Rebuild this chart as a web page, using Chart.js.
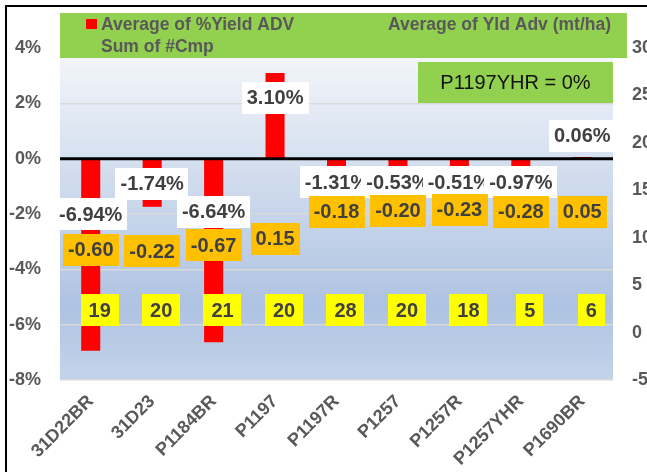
<!DOCTYPE html>
<html><head><meta charset="utf-8">
<script src="https://cdn.jsdelivr.net/npm/chart.js@4.4.1/dist/chart.umd.min.js"></script>
<style>html,body{margin:0;padding:0;background:#fff;overflow:hidden}</style>
</head><body>
<canvas id="c" width="647" height="472"></canvas>
<script>
// ---- data ----
const categories = ['31D22BR','31D23','P1184BR','P1197','P1197R','P1257','P1257R','P1257YHR','P1690BR'];
const yieldAdvPct = [-6.94,-1.74,-6.64,3.10,-1.31,-0.53,-0.51,-0.97,0.06];
const yldAdvMtHa = [-0.60,-0.22,-0.67,0.15,-0.18,-0.20,-0.23,-0.28,0.05];
const cmpCount = [19,20,21,20,28,20,18,5,6];
const leftTicks = [-8,-6,-4,-2,0,2,4];
const rightTicks = [-5,0,5,10,15,20,25,30];
const seriesNames = ['Average of %Yield ADV','Average of Yld Adv (mt/ha)','Sum of #Cmp'];
const noteText = 'P1197YHR = 0%';

// ---- label layout (levels on the left % axis where the original labels sit) ----
const pctLabelLevel = [-2.0,-0.91,-1.91,2.21,-0.86,-0.86,-0.86,-0.86,0.82];
const yldLabelLevel = [-3.30,-3.34,-3.12,-2.90,-1.92,-1.89,-1.85,-1.91,-1.91];
const cmpLabelLevel = -5.47;

const FONT = "'Liberation Sans Narrow','Arial Narrow','Liberation Sans',sans-serif";
const GRAY = '#595959';
const LABEL = '#404040';

const bgPlugin = {
  id: 'bg',
  beforeDraw(chart) {
    const {ctx, chartArea: a} = chart;
    const g = ctx.createLinearGradient(0, a.top, 0, a.bottom);
    g.addColorStop(0, '#F5F7FB');
    g.addColorStop(0.35, '#D4DFEF');
    g.addColorStop(0.78, '#AEC3E2');
    g.addColorStop(1, '#C4D4EA');
    ctx.save();
    ctx.fillStyle = '#fff';
    ctx.fillRect(0, 0, chart.width, chart.height);
    ctx.fillStyle = g;
    ctx.fillRect(a.left, a.top, a.right - a.left, a.bottom - a.top);
    ctx.restore();
  }
};

function box(ctx, text, cx, cy, padX, h, fill, font, color) {
  ctx.font = font;
  const w = ctx.measureText(text).width + padX * 2;
  ctx.fillStyle = fill;
  ctx.fillRect(Math.round(cx - w / 2), Math.round(cy - h / 2), Math.round(w), h);
  ctx.fillStyle = color;
  ctx.textAlign = 'center';
  ctx.textBaseline = 'middle';
  ctx.fillText(text, cx, cy + 1);
}

const overlayPlugin = {
  id: 'overlay',
  afterDatasetsDraw(chart) {
    const {ctx, chartArea: a, scales} = chart;
    const x = scales.x, y = scales.y;
    ctx.save();
    // horizontal axis line at 0%
    const y0 = y.getPixelForValue(0);
    ctx.strokeStyle = '#000';
    ctx.lineWidth = 3;
    ctx.beginPath(); ctx.moveTo(a.left, y0); ctx.lineTo(a.right, y0); ctx.stroke();

    const f = "bold 20px " + FONT;
    categories.forEach((c, i) => {
      const cx = x.getPixelForValue(i);
      box(ctx, yieldAdvPct[i].toFixed(2) + '%', cx, y.getPixelForValue(pctLabelLevel[i]), 5, 32, '#FFFFFF', f, LABEL);
    });
    categories.forEach((c, i) => {
      const cx = x.getPixelForValue(i);
      box(ctx, yldAdvMtHa[i].toFixed(2), cx, y.getPixelForValue(yldLabelLevel[i]), 5, 32, '#FFC000', f, LABEL);
    });
    categories.forEach((c, i) => {
      const cx = x.getPixelForValue(i) + 9;
      box(ctx, String(cmpCount[i]), cx, y.getPixelForValue(cmpLabelLevel), 8, 32, '#FFFF00', f, LABEL);
    });
    ctx.restore();
  },
  afterDraw(chart) {
    const {ctx, chartArea: a} = chart;
    ctx.save();
    // legend band
    ctx.fillStyle = '#92D050';
    ctx.fillRect(a.left, 13, 627 - a.left, 45);
    ctx.fillStyle = '#FF0000';
    ctx.fillRect(86, 19, 11, 10);
    ctx.font = "bold 17.5px " + FONT;
    ctx.fillStyle = GRAY;
    ctx.textBaseline = 'middle';
    ctx.textAlign = 'left';
    ctx.fillText(seriesNames[0], 101, 25);
    ctx.fillText(seriesNames[2], 101, 47);
    ctx.textAlign = 'right';
    ctx.fillText(seriesNames[1], 611, 25);
    // note box
    ctx.fillStyle = '#92D050';
    ctx.fillRect(418, 62, a.right - 418, 41);
    ctx.fillStyle = '#111';
    ctx.font = "20px " + FONT;
    ctx.textAlign = 'center';
    ctx.fillText(noteText, (418 + a.right) / 2, 83);
    // outer border (left and top edges visible)
    ctx.fillStyle = '#000';
    ctx.fillRect(5, 5, 2, chart.height);
    ctx.fillRect(5, 5, chart.width, 2);
    ctx.restore();
  }
};

new Chart(document.getElementById('c'), {
  type: 'bar',
  data: {
    labels: categories,
    datasets: [
      { label: seriesNames[0], data: yieldAdvPct, yAxisID: 'y', backgroundColor: '#FF0000',
        barPercentage: 0.31, categoryPercentage: 1.0, order: 3 },
      { type: 'line', label: seriesNames[1], data: yldAdvMtHa, yAxisID: 'y1',
        showLine: false, pointRadius: 0, pointHoverRadius: 0, order: 2 },
      { type: 'line', label: seriesNames[2], data: cmpCount, yAxisID: 'y1',
        showLine: false, pointRadius: 0, pointHoverRadius: 0, order: 1 }
    ]
  },
  options: {
    responsive: false,
    animation: false,
    devicePixelRatio: 1,
    layout: { padding: { top: 48, left: 0, right: 0, bottom: 0 } },
    plugins: { legend: { display: false }, tooltip: { enabled: false } },
    scales: {
      x: {
        grid: { display: false, drawTicks: false },
        border: { display: false },
        ticks: { autoSkip: false, maxRotation: 45, minRotation: 45, padding: 11,
                 color: GRAY, font: { family: FONT, size: 18, weight: 'bold' } },
        afterFit: s => { s.height = 92; }
      },
      y: {
        position: 'left', min: -8, max: 4,
        afterBuildTicks: s => { s.ticks = leftTicks.map(v => ({ value: v })); },
        grid: { drawTicks: false,
                color: c => (c.tick && c.tick.value === 0) ? 'rgba(0,0,0,0)' : '#D9D9D9',
                lineWidth: 1.5 },
        border: { display: false },
        ticks: { padding: 19, color: GRAY, callback: v => v + '%',
                 font: { family: FONT, size: 18, weight: 'bold' } },
        afterFit: s => { s.width = 60; }
      },
      y1: {
        position: 'right', min: -5, max: 30,
        afterBuildTicks: s => { s.ticks = rightTicks.map(v => ({ value: v })); },
        grid: { display: false, drawTicks: false },
        border: { display: false },
        ticks: { padding: 19, color: GRAY,
                 font: { family: FONT, size: 18, weight: 'bold' } },
        afterFit: s => { s.width = 34; }
      }
    }
  },
  plugins: [bgPlugin, overlayPlugin]
});
</script>
</body></html>
